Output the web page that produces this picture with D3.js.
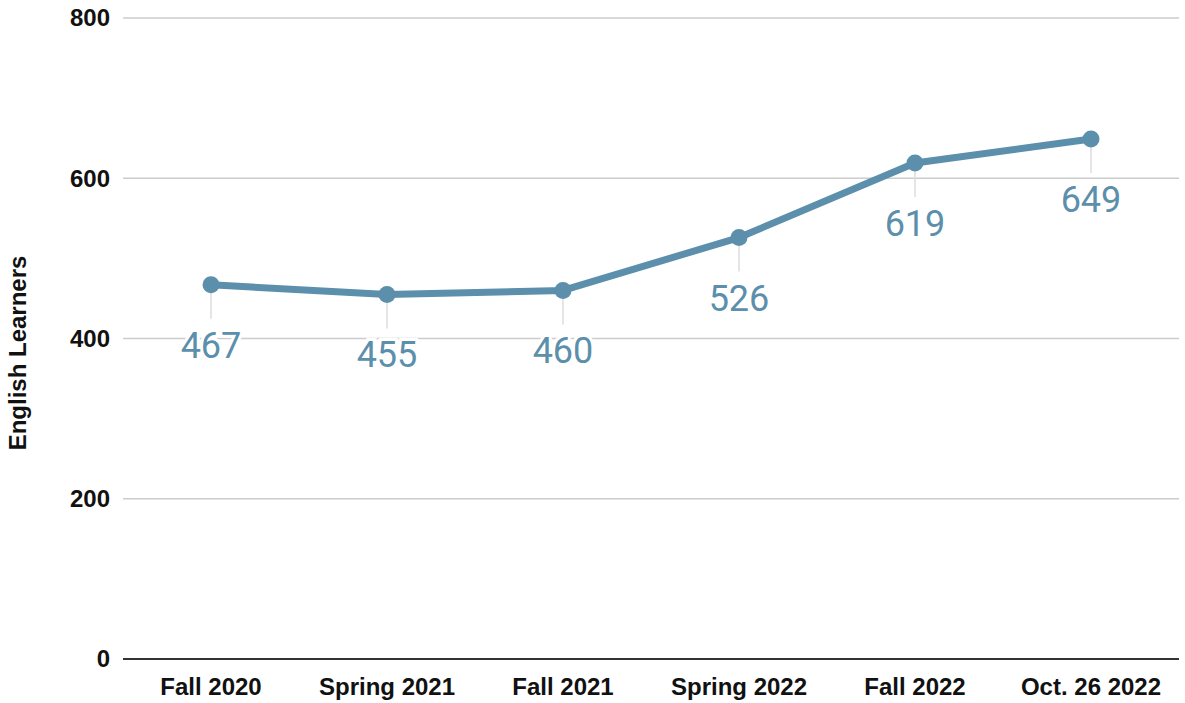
<!DOCTYPE html>
<html>
<head>
<meta charset="utf-8">
<script src="https://cdn.jsdelivr.net/npm/d3@7"></script>
<style>
  body { margin: 0; background: #fff; }
  svg { display: block; }
</style>
</head>
<body>
<script>
const categories = ['Fall 2020', 'Spring 2021', 'Fall 2021', 'Spring 2022', 'Fall 2022', 'Oct. 26 2022'];
const learners = [467, 455, 460, 526, 619, 649];
const yTicks = [0, 200, 400, 600, 800];

const w = 1185, h = 703;
const margin = {top: 18, right: 6, bottom: 44, left: 123};

const svg = d3.select('body').append('svg')
    .attr('width', w)
    .attr('height', h);

const x = d3.scaleBand()
    .domain(categories)
    .range([margin.left, w - margin.right]);

const y = d3.scaleLinear()
    .domain([0, 800])
    .range([h - margin.bottom, margin.top]);

// gridlines
svg.append('g')
    .selectAll('line')
    .data(yTicks.filter(d => d > 0))
    .enter()
    .append('line')
    .attr('x1', margin.left)
    .attr('x2', w - margin.right)
    .attr('y1', d => y(d))
    .attr('y2', d => y(d))
    .attr('stroke', '#cccccc')
    .attr('stroke-width', 1.3);

// baseline
svg.append('line')
    .attr('x1', margin.left)
    .attr('x2', w - margin.right)
    .attr('y1', y(0))
    .attr('y2', y(0))
    .attr('stroke', '#333')
    .attr('stroke-width', 2);

// y tick labels
svg.append('g')
    .selectAll('text')
    .data(yTicks)
    .enter()
    .append('text')
    .attr('x', 110)
    .attr('y', d => y(d))
    .attr('dy', '0.35em')
    .attr('text-anchor', 'end')
    .attr('font-family', 'Liberation Sans, Arial, sans-serif')
    .attr('font-weight', 'bold')
    .attr('font-size', 24)
    .attr('fill', '#111')
    .text(d => d);

// x labels
svg.append('g')
    .selectAll('text')
    .data(categories)
    .enter()
    .append('text')
    .attr('x', d => x(d) + x.bandwidth() / 2)
    .attr('y', 695)
    .attr('text-anchor', 'middle')
    .attr('font-family', 'Liberation Sans, Arial, sans-serif')
    .attr('font-weight', 'bold')
    .attr('font-size', 24)
    .attr('fill', '#111')
    .text(d => d);

// y axis title
svg.append('text')
    .attr('transform', `translate(26, 353) rotate(-90)`)
    .attr('text-anchor', 'middle')
    .attr('font-family', 'Liberation Sans, Arial, sans-serif')
    .attr('font-weight', 'bold')
    .attr('font-size', 24)
    .attr('fill', '#111')
    .text('English Learners');

const pts = categories.map((c, i) => ({cat: c, value: learners[i]}));
const cx = d => x(d.cat) + x.bandwidth() / 2;

// leader lines
svg.append('g')
    .selectAll('line')
    .data(pts)
    .enter()
    .append('line')
    .attr('x1', cx)
    .attr('x2', cx)
    .attr('y1', d => y(d.value) + 8)
    .attr('y2', d => y(d.value) + 34)
    .attr('stroke', '#dddddd')
    .attr('stroke-width', 1.5);

// line
const line = d3.line()
    .x(cx)
    .y(d => y(d.value));

svg.append('path')
    .datum(pts)
    .attr('d', line)
    .attr('fill', 'none')
    .attr('stroke', '#5b8fab')
    .attr('stroke-width', 7)
    .attr('stroke-linejoin', 'round')
    .attr('stroke-linecap', 'round');

svg.append('g')
    .selectAll('circle')
    .data(pts)
    .enter()
    .append('circle')
    .attr('cx', cx)
    .attr('cy', d => y(d.value))
    .attr('r', 8.5)
    .attr('fill', '#5b8fab');

// value labels
svg.append('g')
    .selectAll('text')
    .data(pts)
    .enter()
    .append('text')
    .attr('x', cx)
    .attr('y', d => y(d.value) + 73)
    .attr('text-anchor', 'middle')
    .attr('font-family', 'Roboto, sans-serif')
    .attr('font-size', 36)
    .attr('fill', '#5b8fab')
    .attr('stroke', '#fff')
    .attr('stroke-width', 6)
    .attr('paint-order', 'stroke')
    .text(d => d.value);
</script>
</body>
</html>
